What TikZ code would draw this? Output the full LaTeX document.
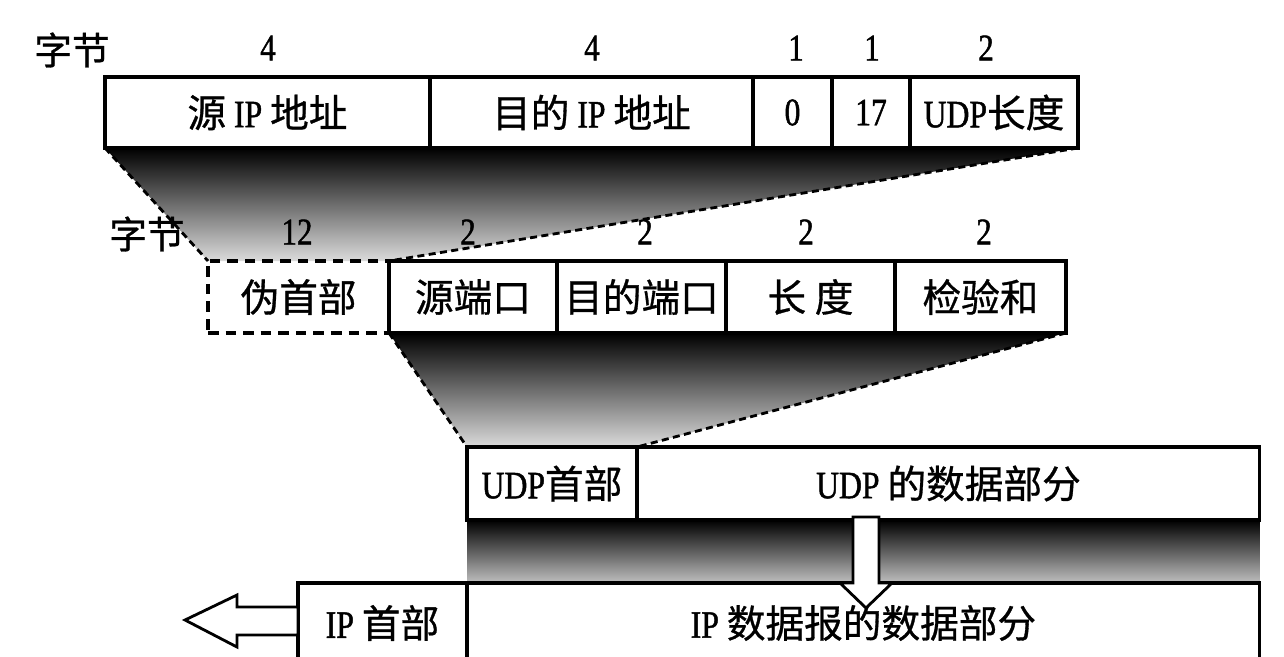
\documentclass[tikz,border=0pt]{standalone}
\usepackage{fontspec}
\setmainfont{Liberation Serif}[FakeStretch=0.82,FakeBold=1.2]
\newfontfamily\cjk{Noto Sans CJK SC}[FakeBold=0.8]
\usetikzlibrary{calc,backgrounds}
\newcommand{\zh}[1]{{\cjk #1}}

\tikzset{
  cell/.style={draw, line width=1.8pt, inner sep=0pt, outer sep=0pt,
    anchor=north west, font=\fontsize{22}{24}\selectfont},
  lbl/.style={inner sep=0pt, font=\fontsize{21.5}{22}\selectfont},
  funnel/.style={line width=1.6pt, dash pattern=on 4pt off 2.5pt},
  hollow/.style={draw, line width=1.6pt, fill=white, line join=miter},
}

\begin{document}
\begin{tikzpicture}[x=0.02cm,y=-0.02cm]
\useasboundingbox (0,0) rectangle (1284,656);

\node (srcip) at (105,77) [cell,minimum width=6.5cm,minimum height=1.42cm] {\zh{源} IP \zh{地址}};
\node (dstip) at (430,77) [cell,minimum width=6.46cm,minimum height=1.42cm] {\zh{目的} IP \zh{地址}};
\node (zero) at (753,77) [cell,minimum width=1.58cm,minimum height=1.42cm] {0};
\node (proto) at (832,77) [cell,minimum width=1.56cm,minimum height=1.42cm] {17};
\node (udplen) at (910,77) [cell,minimum width=3.36cm,minimum height=1.42cm] {UDP\zh{长度}};

\node (pseudo) at (208,261) [cell,dash pattern=on 6pt off 4pt,minimum width=3.62cm,minimum height=1.44cm] {\zh{伪首部}};
\node (sport) at (389,261) [cell,minimum width=3.36cm,minimum height=1.44cm] {\zh{源端口}};
\node (dport) at (557,261) [cell,minimum width=3.38cm,minimum height=1.44cm] {\zh{目的端口}};
\node (len) at (726,261) [cell,minimum width=3.38cm,minimum height=1.44cm] {\zh{长\ 度}};
\node (cksum) at (895,261) [cell,minimum width=3.42cm,minimum height=1.44cm] {\zh{检验和}};

\node (udphdr) at (467,447) [cell,minimum width=3.4cm,minimum height=1.46cm] {UDP\zh{首部}};
\node (udpdata) at (637,447) [cell,minimum width=12.46cm,minimum height=1.46cm] {UDP \zh{的数据部分}};

\node (iphdr) at (298,583) [cell,minimum width=3.38cm,minimum height=1.6cm] {IP \zh{首部}};
\node (ipdata) at (467,583) [cell,minimum width=15.86cm,minimum height=1.6cm] {IP \zh{数据报的数据部分}};

\begin{scope}[on background layer]
\shade[top color=black, middle color=black!65, bottom color=black!14] (srcip.south west) -- (udplen.south east) -- (pseudo.north east) -- (pseudo.north west) -- cycle;
\shade[top color=black, middle color=black!65, bottom color=black!14] (sport.south west) -- (cksum.south east) -- (udphdr.north east) -- (udphdr.north west) -- cycle;
\shade[top color=black, middle color=black!60, bottom color=black!25] (udphdr.south west) rectangle (ipdata.north east);
\end{scope}

\draw[funnel] (srcip.south west) -- (pseudo.north west);
\draw[funnel] (udplen.south east) -- (pseudo.north east);
\draw[funnel] (sport.south west) -- (udphdr.north west);
\draw[funnel] (cksum.south east) -- (udphdr.north east);

\node (b1) at (72,50) [lbl] {\zh{字节}};
\node (n1) at (268,48) [lbl] {4};
\node (n2) at (592,48) [lbl] {4};
\node (n3) at (796,48) [lbl] {1};
\node (n4) at (872,48) [lbl] {1};
\node (n5) at (986,48) [lbl] {2};

\node (b2) at (147,234) [lbl] {\zh{字节}};
\node (m1) at (297,232) [lbl] {12};
\node (m2) at (468,232) [lbl] {2};
\node (m3) at (645,232) [lbl] {2};
\node (m4) at (806,232) [lbl] {2};
\node (m5) at (984,232) [lbl] {2};

\coordinate (dn) at (866,517);
\draw[hollow] ($(dn)+(-13,0)$) -- ++(26,0) -- ++(0,66) -- ++(13,0) -- (866,608) -- (840,583) -- ++(13,0) -- cycle;

\coordinate (lt) at (185,620);
\draw[hollow] (lt) -- ++(52,-25) -- ++(0,12) -- (iphdr.west |- 0,607) -- (iphdr.west |- 0,635) -- ++(-61,0) -- ++(0,12) -- cycle;
\end{tikzpicture}
\end{document}
